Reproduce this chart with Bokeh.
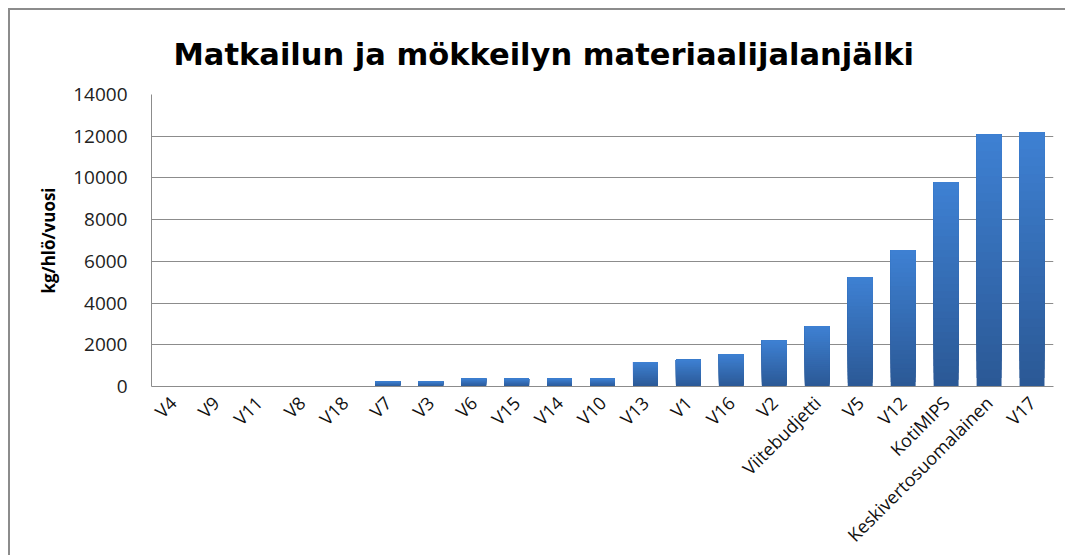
from bokeh.plotting import figure
from bokeh.models import FactorRange, Range1d, FixedTicker
from bokeh.embed import file_html
from bokeh.resources import INLINE
import math

# ---- data ----
categories = ["V4", "V9", "V11", "V8", "V18", "V7", "V3", "V6", "V15", "V14", "V10",
              "V13", "V1", "V16", "V2", "Viitebudjetti", "V5", "V12", "KotiMIPS",
              "Keskivertosuomalainen", "V17"]
values = [0, 0, 0, 0, 0, 240, 240, 380, 380, 380, 380,
          1170, 1280, 1550, 2200, 2900, 5250, 6550, 9800, 12100, 12200]
y_ticks = [0, 2000, 4000, 6000, 8000, 10000, 12000, 14000]
title_text = "Matkailun ja mökkeilyn materiaalijalanjälki"
y_label = "kg/hlö/vuosi"

FONT = "Open Sans"

p = figure(x_range=FactorRange(*categories, range_padding=0),
           y_range=Range1d(0, 14000),
           width=1057, height=547,
           output_backend="svg", toolbar_location=None,
           min_border_left=141, min_border_right=14,
           min_border_top=84, min_border_bottom=171,
           title=title_text)
p.styles = {"border-top": "2px solid #8c8c8c", "border-left": "2px solid #8c8c8c",
            "margin-top": "8px", "margin-left": "8px"}

p.title.text_font = "DejaVu Sans"
p.title.text_font_size = "30.5px"
p.title.text_font_style = "bold"
p.title.text_color = "#000000"
p.title.align = "left"
p.title.offset = 22
p.title.standoff = 45

p.outline_line_color = None
p.background_fill_color = "white"
p.border_fill_color = "white"

# gradient bars: lighter at top, darker at bottom
N = 30
top_rgb = (0x3E, 0x80, 0xD2)
bot_rgb = (0x2B, 0x59, 0x96)
for i in range(N):
    t = i / (N - 1)
    c = tuple(int(round(bot_rgb[k] + (top_rgb[k] - bot_rgb[k]) * t)) for k in range(3))
    col = "#%02x%02x%02x" % c
    bottoms = [v * i / N for v in values]
    p.vbar(x=categories, bottom=bottoms, top=values, width=0.58,
           fill_color=col, line_color=None)

# axes
p.yaxis.ticker = FixedTicker(ticks=y_ticks)
p.yaxis.axis_label = y_label
p.yaxis.axis_label_text_font = FONT
p.yaxis.axis_label_text_font_style = "bold"
p.yaxis.axis_label_text_font_size = "17px"
p.yaxis.axis_label_text_color = "#000000"
p.yaxis.axis_label_standoff = 10
p.yaxis.major_label_text_font = FONT
p.yaxis.major_label_text_font_size = "19px"
p.yaxis.major_label_text_color = "#222222"
p.yaxis.major_label_standoff = 18
p.yaxis.major_tick_line_color = None
p.yaxis.minor_tick_line_color = None
p.yaxis.axis_line_color = "#8c8c8c"

p.xaxis.major_label_orientation = math.pi / 4
p.xaxis.major_label_text_font = FONT
p.xaxis.major_label_text_font_size = "18px"
p.xaxis.major_label_text_color = "#111111"
p.xaxis.major_label_standoff = 7
p.xaxis.major_tick_line_color = None
p.xaxis.axis_line_color = "#8c8c8c"

p.xgrid.grid_line_color = None
p.ygrid.grid_line_color = "#8c8c8c"
p.ygrid.grid_line_width = 1

open("out.html", "w").write(file_html(p, INLINE))
